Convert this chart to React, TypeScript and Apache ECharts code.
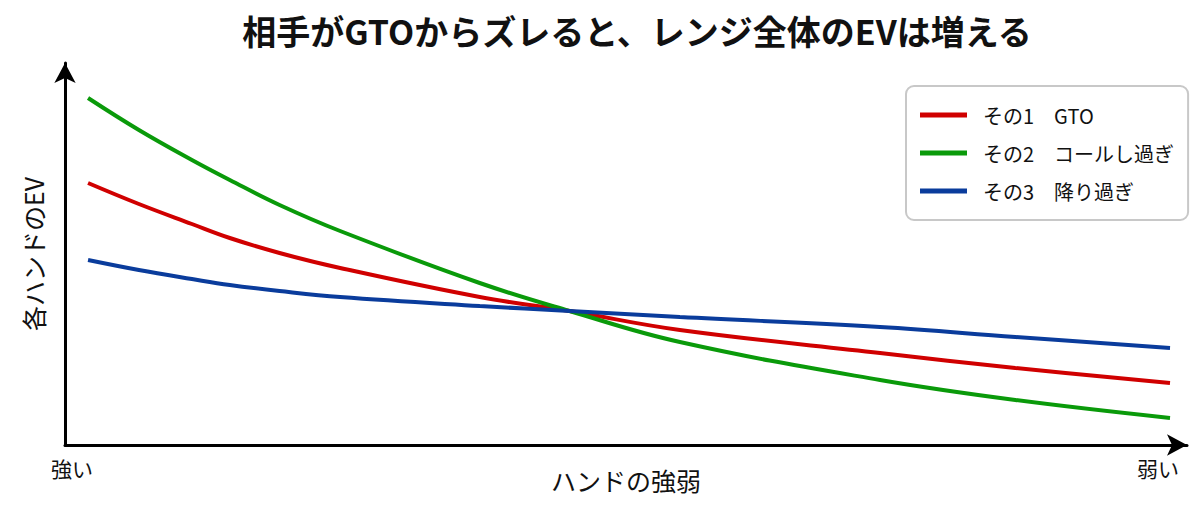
import React, { useEffect, useRef } from "react";
import * as echarts from "echarts";

// hand strength: 0 = strongest, 100 = weakest
const strength = [0, 4.7, 9.6, 13.1, 17.7, 23.3, 36.2, 44.5, 54.7, 73.2, 85.7, 100];
const evGTO = [262, 241, 221, 207, 192, 177, 148, 134, 115, 92, 77, 62];
const evCall = [347, 315, 285, 265, 240, 214, 162, 134, 103, 65, 45, 27];
const evFold = [185, 175, 166, 160, 154, 148, 139, 134, 128, 118, 108, 97];
const seriesNames = ["その1　GTO", "その2　コールし過ぎ", "その3　降り過ぎ"];
const seriesColors = ["#d00000", "#0a9a0a", "#0a3c9c"];
const endLabels = ["強い", "弱い"];

const FONT = "'Noto Sans CJK JP', 'Noto Sans', sans-serif";

export default function App() {
  const ref = useRef<HTMLDivElement>(null);
  useEffect(() => {
    document.body.style.margin = "0";
    const chart = echarts.init(ref.current!, undefined, { renderer: "svg" });
    const seriesData = [evGTO, evCall, evFold];
    const axisLine = {
      show: true,
      onZero: false,
      symbol: ["none", "arrow"],
      symbolSize: [16, 20],
      lineStyle: { color: "#000", width: 3 },
    };
    chart.setOption({
      animation: false,
      backgroundColor: "#ffffff",
      textStyle: { fontFamily: FONT },
      title: {
        text: "相手がGTOからズレると、レンジ全体のEVは増える",
        left: 632,
        textAlign: "center",
        top: 8,
        textStyle: { fontFamily: FONT, fontSize: 34, fontWeight: "bold", color: "#111" },
      },
      grid: { left: 65, right: 13, top: 63, bottom: 69 },
      legend: {
        orient: "vertical",
        left: 906,
        top: 86,
        icon: "rect",
        itemWidth: 47,
        itemHeight: 5,
        itemGap: 18,
        padding: [19, 14, 19, 14],
        borderColor: "#c8c8c8",
        borderWidth: 2,
        borderRadius: 8,
        backgroundColor: "#ffffff",
        textStyle: { fontFamily: FONT, fontSize: 20, color: "#111", padding: [0, 0, 0, 11] },
        data: seriesNames,
      },
      xAxis: {
        type: "value",
        min: -2.13,
        max: 101.57,
        name: "ハンドの強弱",
        nameLocation: "middle",
        nameGap: 22,
        nameTextStyle: { fontFamily: FONT, fontSize: 25, color: "#111" },
        axisLine,
        axisTick: { show: false },
        axisLabel: { show: false },
        splitLine: { show: false },
      },
      yAxis: {
        type: "value",
        min: 0,
        max: 382,
        name: "各ハンドのEV",
        nameLocation: "middle",
        nameRotate: 90,
        nameGap: 20,
        nameTextStyle: { fontFamily: FONT, fontSize: 25, color: "#111" },
        axisLine,
        axisTick: { show: false },
        axisLabel: { show: false },
        splitLine: { show: false },
      },
      graphic: [
        {
          type: "text",
          left: 51,
          top: 457,
          style: { text: endLabels[0], font: `21px ${FONT}`, fill: "#111" },
        },
        {
          type: "text",
          left: 1137,
          top: 457,
          style: { text: endLabels[1], font: `21px ${FONT}`, fill: "#111" },
        },
      ],
      series: seriesNames.map((name, i) => ({
        name,
        type: "line",
        smooth: 0.4,
        showSymbol: false,
        symbol: "none",
        color: seriesColors[i],
        lineStyle: { width: 4, color: seriesColors[i] },
        data: strength.map((s, j) => [s, seriesData[i][j]]),
      })),
    });
    return () => chart.dispose();
  }, []);
  return <div ref={ref} style={{ width: 1200, height: 514 }} />;
}
